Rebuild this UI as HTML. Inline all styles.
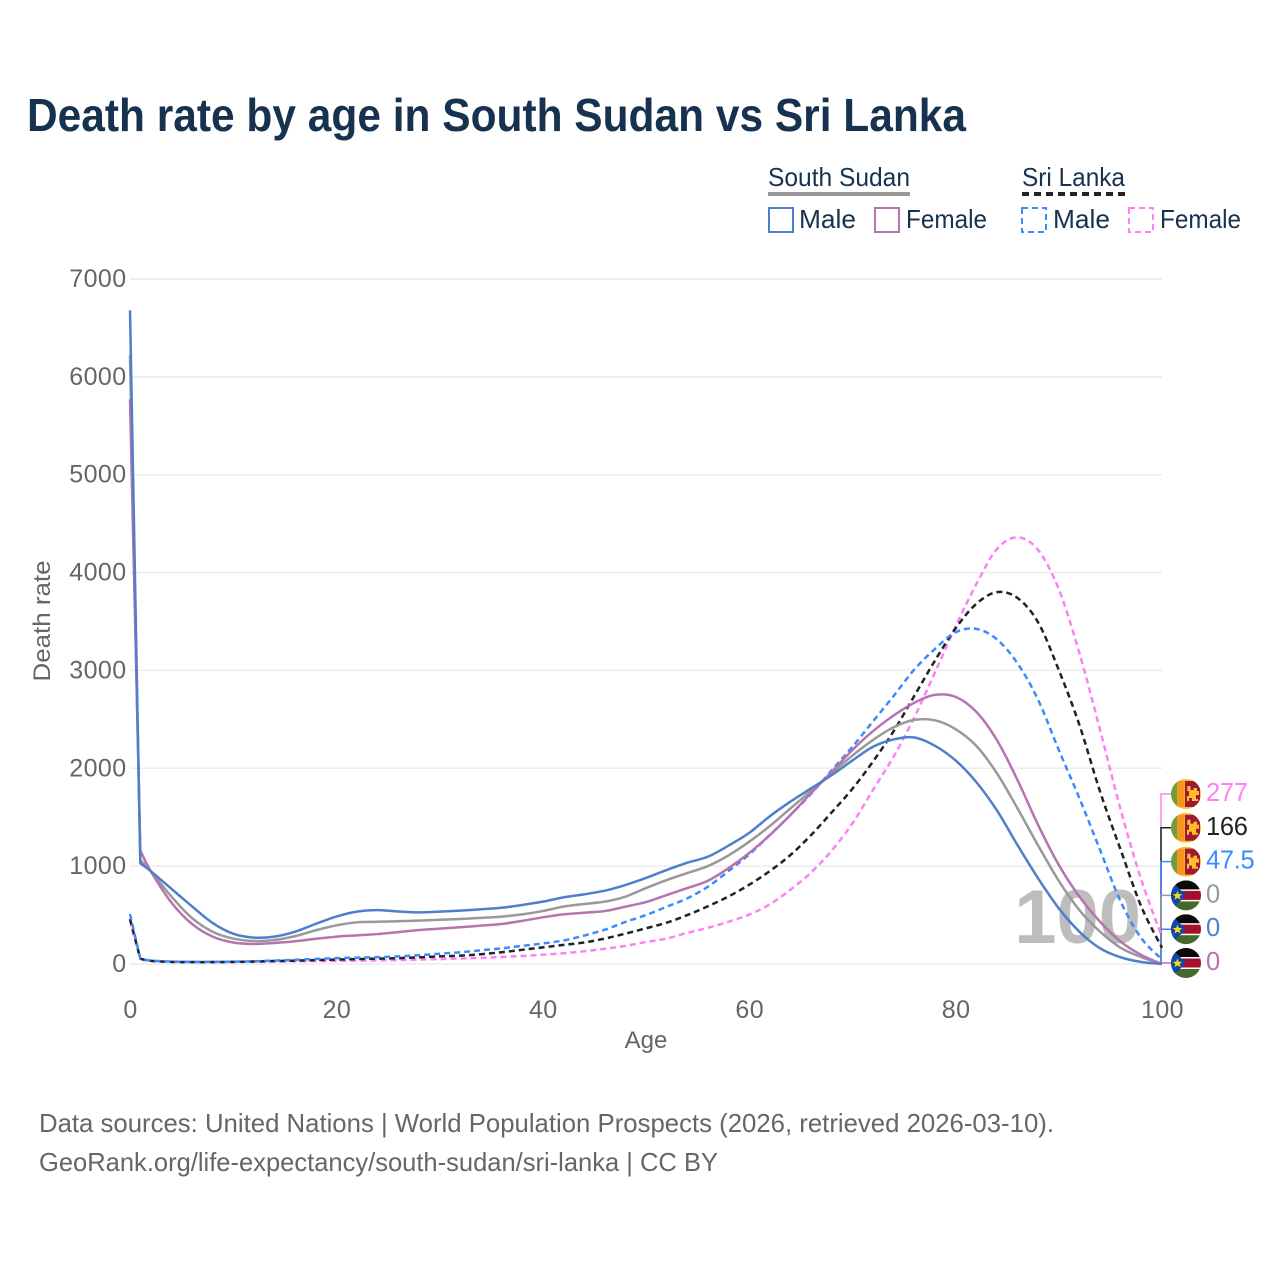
<!DOCTYPE html>
<html lang="en">
<head>
<meta charset="utf-8">
<title>Death rate by age in South Sudan vs Sri Lanka</title>
<style>
html,body{margin:0;padding:0;background:#fff;}
svg{display:block;}
text{font-family:"Liberation Sans",sans-serif;}
</style>
</head>
<body>
<svg id="chart" xmlns="http://www.w3.org/2000/svg" width="1280" height="1280" viewBox="0 0 1280 1280">
  <rect width="1280" height="1280" fill="#fff"/>
  <defs>
    <clipPath id="flag-clip"><circle cx="0" cy="0" r="15"/></clipPath>
  </defs>
  <text x="27" y="131" font-size="46" font-weight="700" fill="#17324f" textLength="939" lengthAdjust="spacingAndGlyphs">Death rate by age in South Sudan vs Sri Lanka</text>

  <g font-size="26" fill="#17324f">
    <text x="768" y="186" textLength="142" lengthAdjust="spacingAndGlyphs">South Sudan</text>
    <line x1="768" y1="194" x2="910" y2="194" stroke="#999" stroke-width="4"/>
    <text x="1022" y="186" textLength="103" lengthAdjust="spacingAndGlyphs">Sri Lanka</text>
    <line x1="1022" y1="194" x2="1125" y2="194" stroke="#222" stroke-width="4" stroke-dasharray="7 5"/>
    <rect x="769" y="208" width="24" height="24" fill="none" stroke="#4f7fcb" stroke-width="2"/>
    <text x="799" y="228" textLength="57" lengthAdjust="spacingAndGlyphs">Male</text>
    <rect x="875" y="208" width="24" height="24" fill="none" stroke="#b574b0" stroke-width="2"/>
    <text x="906" y="228" textLength="81" lengthAdjust="spacingAndGlyphs">Female</text>
    <rect x="1022" y="208" width="24" height="24" fill="none" stroke="#3b8bff" stroke-width="2" stroke-dasharray="6 4"/>
    <text x="1053" y="228" textLength="57" lengthAdjust="spacingAndGlyphs">Male</text>
    <rect x="1129" y="208" width="24" height="24" fill="none" stroke="#ff80f5" stroke-width="2" stroke-dasharray="6 4"/>
    <text x="1160" y="228" textLength="81" lengthAdjust="spacingAndGlyphs">Female</text>
  </g>

  <g id="grid"></g>
  <text x="1141" y="943" text-anchor="end" font-size="76" font-weight="700" fill="#bdbdbd">100</text>
  <g id="y-ticks" font-size="25" fill="#666" text-anchor="end" letter-spacing=".4"></g>
  <g id="x-ticks" font-size="25" fill="#666" text-anchor="middle" letter-spacing=".4"></g>
  <text x="646" y="1048" font-size="24" fill="#666" text-anchor="middle">Age</text>
  <text transform="translate(50 621) rotate(-90)" font-size="24" fill="#666" text-anchor="middle" textLength="121" lengthAdjust="spacingAndGlyphs">Death rate</text>
  <g id="connectors" fill="none" stroke-width="1.5"></g>
  <g id="series" fill="none" stroke-width="2.5" stroke-linejoin="round"></g>
  <g id="end-labels" font-size="25.5"></g>

  <text x="39" y="1132" font-size="26" fill="#666" textLength="1015" lengthAdjust="spacingAndGlyphs">Data sources: United Nations | World Population Prospects (2026, retrieved 2026-03-10).</text>
  <text x="39" y="1171" font-size="26" fill="#666" textLength="679" lengthAdjust="spacingAndGlyphs">GeoRank.org/life-expectancy/south-sudan/sri-lanka | CC BY</text>
</svg>
<script>
const xTicks = [0, 20, 40, 60, 80, 100];
const yTicks = [0, 1000, 2000, 3000, 4000, 5000, 6000, 7000];
const ages = [0,1,2,4,6,8,10,12,14,16,18,20,22,24,26,28,30,32,34,36,38,40,42,44,46,48,50,52,54,56,58,60,62,64,66,68,70,72,74,76,78,80,82,84,86,88,90,92,94,96,98,100];

const sriLankaFemale = [440,50,30,20,18,18,20,22,25,28,30,32,34,37,40,45,50,56,63,72,82,95,110,130,155,185,225,260,318,370,432,505,610,760,935,1160,1437,1780,2120,2520,2980,3450,3880,4240,4360,4230,3830,3176,2391,1574,858,277];
const sriLankaTotal = [460,55,33,22,20,20,22,25,30,35,40,45,50,55,60,68,78,85,100,120,145,170,195,220,260,310,365,422,500,590,690,810,950,1114,1318,1550,1790,2070,2380,2740,3100,3430,3680,3800,3740,3490,3004,2442,1761,1165,585,166];
const sriLankaMale = [510,55,35,25,22,22,24,28,35,43,52,60,65,70,78,90,105,120,140,160,185,210,240,290,350,430,500,585,671,790,950,1120,1318,1523,1740,1980,2220,2480,2740,3010,3220,3390,3425,3318,3072,2698,2187,1693,1165,637,263,47.5];
const southSudanTotal = [6220,1060,950,690,470,330,260,235,245,285,345,395,426,432,437,443,452,460,471,484,507,541,586,613,637,688,776,858,929,1001,1110,1250,1410,1590,1770,1950,2130,2290,2420,2495,2490,2400,2230,1950,1590,1210,850,550,330,165,70,0];
const southSudanFemale = [5770,1160,950,630,410,280,220,205,215,232,258,279,293,306,326,347,361,375,392,409,441,477,507,524,541,586,633,705,776,851,980,1134,1318,1523,1747,1965,2187,2380,2540,2670,2750,2730,2578,2289,1880,1420,1012,688,432,228,92,0];
const southSudanMale = [6680,1030,950,770,590,420,310,270,280,330,410,485,535,550,537,528,535,545,559,575,603,637,681,712,749,807,880,960,1035,1097,1210,1340,1510,1660,1795,1930,2080,2220,2295,2315,2230,2080,1860,1570,1215,875,569,330,160,68,20,0];

const endValues = ["277", "166", "47.5", "0", "0", "0"];
const endNumbers = [277, 166, 47.5, 0, 0, 0];

const NS = "http://www.w3.org/2000/svg";
const plot = { left: 130, right: 1162, top: 279, bottom: 964 };
function xScale(age) { return plot.left + (age / 100) * (plot.right - plot.left); }
function yScale(v) { return plot.bottom - (v / 7000) * (plot.bottom - plot.top); }
function make(tag, attrs, parent) {
  const el = document.createElementNS(NS, tag);
  for (const k in attrs) el.setAttribute(k, attrs[k]);
  parent.appendChild(el);
  return el;
}
function linePath(values) {
  const pts = values.map((v, i) => [xScale(ages[i]), yScale(v)]);
  let d = "M" + pts[0][0].toFixed(2) + " " + pts[0][1].toFixed(2) + "L" + pts[1][0].toFixed(2) + " " + pts[1][1].toFixed(2);
  for (let i = 1; i < pts.length - 1; i++) {
    const p0 = pts[Math.max(1, i - 1)], p1 = pts[i], p2 = pts[i + 1], p3 = pts[Math.min(pts.length - 1, i + 2)];
    const c1x = p1[0] + (p2[0] - p0[0]) / 6, c1y = p1[1] + (p2[1] - p0[1]) / 6;
    const c2x = p2[0] - (p3[0] - p1[0]) / 6, c2y = p2[1] - (p3[1] - p1[1]) / 6;
    d += "C" + c1x.toFixed(2) + " " + c1y.toFixed(2) + " " + c2x.toFixed(2) + " " + c2y.toFixed(2) + " " + p2[0].toFixed(2) + " " + p2[1].toFixed(2);
  }
  return d;
}

const gridG = document.getElementById("grid");
const yG = document.getElementById("y-ticks");
const xG = document.getElementById("x-ticks");
yTicks.forEach(t => {
  const ln = make("line", { x1: plot.left, x2: plot.right, y1: yScale(t), y2: yScale(t), stroke: "#ececec", "stroke-width": 1.5 }, gridG);
  
  
  const tx = make("text", { x: 126.5, y: yScale(t) + 8 }, yG);
  
  
  tx.textContent = t;
});
xTicks.forEach(t => {
  const tx = make("text", { x: xScale(t) + 0.5, y: 1018 }, xG);
  
  
  tx.textContent = t;
});

const seriesG = document.getElementById("series");
function drawSeries(values, color, dash, name) {
  const p = make("path", { d: linePath(values), stroke: color }, seriesG);
  if (dash) p.setAttribute("stroke-dasharray", "6 4");
  
  
}
drawSeries(sriLankaFemale, "#ff80f5", true, "line-sri-lanka-female");
drawSeries(sriLankaTotal, "#222222", true, "line-sri-lanka-total");
drawSeries(sriLankaMale, "#3b8bff", true, "line-sri-lanka-male");
drawSeries(southSudanTotal, "#999999", false, "line-south-sudan-total");
drawSeries(southSudanFemale, "#b574b0", false, "line-south-sudan-female");
drawSeries(southSudanMale, "#4f7fcb", false, "line-south-sudan-male");

const endColors = ["#ff80f5", "#222222", "#3b8bff", "#999999", "#4f7fcb", "#b574b0"];
const connG = document.getElementById("connectors");
const labelG = document.getElementById("end-labels");

function sriLankaFlag(g) {
  make("rect", { x: -15, y: -15, width: 30, height: 30, fill: "#ffbe29" }, g);
  make("rect", { x: -15, y: -13, width: 6, height: 26, fill: "#6f9e3a" }, g);
  make("rect", { x: -9, y: -13, width: 7.5, height: 26, fill: "#f7941d" }, g);
  make("rect", { x: -1, y: -13, width: 15, height: 26, fill: "#9d1a36" }, g);
  make("path", { d: "M1.5 -8h3v4h3v-2h3.5v3h2v4h-3v4h2v2h-6v-3h-3v3h-2v-5h2v-5h-2z", fill: "#ffbe29" }, g);
}
function southSudanFlag(g) {
  make("rect", { x: -15, y: -15, width: 30, height: 10, fill: "#0a0a0a" }, g);
  make("rect", { x: -15, y: -6, width: 30, height: 12, fill: "#ffffff" }, g);
  make("rect", { x: -15, y: -4.5, width: 30, height: 9, fill: "#a50e2d" }, g);
  make("rect", { x: -15, y: 6, width: 30, height: 9, fill: "#45682d" }, g);
  make("path", { d: "M-15 -15L0 0L-15 15Z", fill: "#0f47af" }, g);
  make("path", { d: "M-8.5 -4.5l1.3 3.2 3.4 .2-2.6 2.1 .9 3.3-3-1.9-3 1.9 .9-3.3-2.6-2.1 3.4-.2z", fill: "#fcdd09" }, g);
}
endValues.forEach((label, i) => {
  const ly = 794 + i * 33.8;
  const c = make("path", { d: "M1161 " + yScale(endNumbers[i]).toFixed(1) + "V" + ly.toFixed(1) + "H1172", stroke: endColors[i] }, connG);
  
  
  const g = make("g", { transform: "translate(1186 " + ly.toFixed(1) + ")", "clip-path": "url(#flag-clip)" }, labelG);
  
  
  if (i < 3) sriLankaFlag(g); else southSudanFlag(g);
  const t = make("text", { x: 1206, y: ly + 7, fill: endColors[i], "letter-spacing": "-.3" }, labelG);
  
  
  t.textContent = label;
});
</script>
</body>
</html>
